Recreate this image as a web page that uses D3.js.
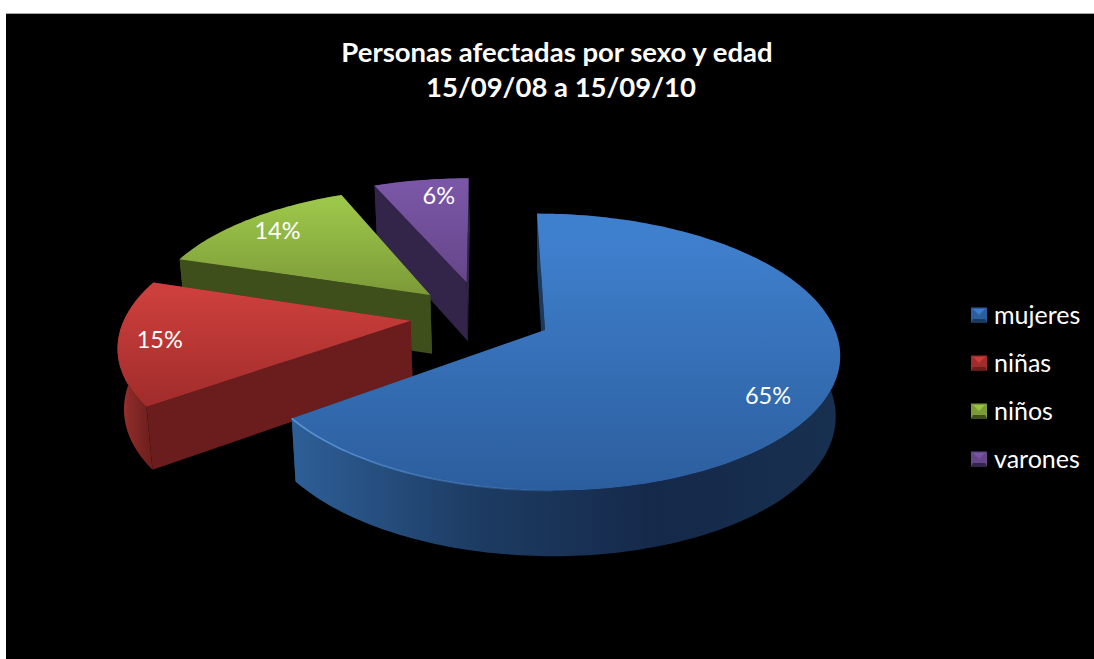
<!DOCTYPE html>
<html>
<head>
<meta charset="utf-8">
<script src="https://cdn.jsdelivr.net/npm/d3@7"></script>
<style>
  html, body { margin: 0; padding: 0; background: #fff; }
  svg { display: block; }
  text { font-family: Lato, "Open Sans", sans-serif; fill: #fff; }
</style>
</head>
<body>
<div id="chart"></div>
<script>
(function () {

  // chart data, shares (labels round them)
  const categories = ['mujeres', 'niñas', 'niños', 'varones'];
  const shares = [64.9, 15, 13.7, 6.4];
  const titleLines = ['Personas afectadas por sexo y edad', '15/09/08 a 15/09/10'];

  // colours per slice: top face (light, dark), wall (list of stops), cut face
  const topLight = ['#3f80ce', '#cc3f3c', '#9cc64a', '#7a56a6'];
  const topDark = ['#2c5e9e', '#a02c2b', '#7c9a38', '#654689'];
  const wallStops = [
    ['#2e5f98', '#1d3c63', '#15294a', '#18304f'],
    ['#a33533', '#8a2a28', '#7a2422', '#6a1d1c'],
    ['#4c5f22', '#43531e', '#3f4f1c', '#3f4f1c'],
    ['#3c2c56', '#35274d', '#33254a', '#33254a']
  ];
  const cutColors = ['#1a3a5e', '#6a1d1c', '#3f4f1c', '#33254a'];

  const width = 1094;
  const height = 659;

  // fake 3d pie set up: ground plane coords (u right, v to the back) on a unit radius
  const cx = 545, cy = 330;
  const perspective = 0.16;
  const skew = -8;
  const depth = 60;
  const bottomShrink = 0.985;

  // how far each slice is pulled out of the pie, in ground coords
  const pullU = [0, -0.467, -0.405, -0.275];
  const pullV = [0, 0.07, 0.27, 0.37];
  const labelRadius = [0.835, 0.86, 0.83, 0.82];
  const labelTurn = [6, 0, 0, 3];

  const xScale = d3.scaleLinear().domain([-1, 1]).range([cx - 290, cx + 290]);
  const yScale = d3.scaleLinear().domain([-1, 1]).range([cy + 135, cy - 135]);

  function project(u, v, low) {
    const s = 1 + perspective * v;
    let x = xScale(u / s) + skew * v;
    let y = yScale(v / s);
    if (low) {
      x = cx + (x - cx) * bottomShrink;
      y = y + depth / Math.sqrt(s);
    }
    return [x, y];
  }

  function rimPoint(i, angle, low) {
    return project(pullU[i] + Math.sin(angle), pullV[i] + Math.cos(angle), low);
  }

  function rim(i, a0, a1, low) {
    const n = Math.max(2, Math.ceil((a1 - a0) / 0.02));
    return d3.range(n + 1).map(k => rimPoint(i, a0 + (a1 - a0) * k / n, low));
  }

  const svg = d3.select('#chart').append('svg')
    .attr('width', width)
    .attr('height', height);

  const defs = svg.append('defs');
  const line = d3.line();

  // black panel with the thin grey line on top
  svg.append('rect').attr('x', 6).attr('y', 13).attr('width', width - 6).attr('height', height - 13).attr('fill', '#000');
  svg.append('rect').attr('x', 6).attr('y', 13).attr('width', width - 6).attr('height', 1).attr('fill', '#aaa');

  const pie = d3.pie().sort(null).value(d => d);
  const slices = pie(shares);

  // gradients
  slices.forEach((d, i) => {
    const top = defs.append('linearGradient').attr('id', 'top' + i)
      .attr('gradientUnits', 'userSpaceOnUse')
      .attr('x1', 0).attr('x2', 0);
    const ys = rim(i, d.startAngle, d.endAngle, false).map(p => p[1]).concat(project(pullU[i], pullV[i], false)[1]);
    top.attr('y1', d3.min(ys)).attr('y2', d3.max(ys));
    top.append('stop').attr('offset', 0.08).attr('stop-color', topLight[i]);
    top.append('stop').attr('offset', 1).attr('stop-color', topDark[i]);

    const xs = rim(i, d.startAngle, d.endAngle, false).map(p => p[0]);
    const wall = defs.append('linearGradient').attr('id', 'wall' + i)
      .attr('gradientUnits', 'userSpaceOnUse')
      .attr('x1', d3.min(xs)).attr('x2', d3.max(xs)).attr('y1', 0).attr('y2', 0);
    wallStops[i].forEach((c, k) => {
      wall.append('stop').attr('offset', k / (wallStops[i].length - 1)).attr('stop-color', c);
    });
  });

  const rimGlow = defs.append('linearGradient').attr('id', 'rimGlow')
    .attr('gradientUnits', 'userSpaceOnUse')
    .attr('x1', 293).attr('x2', 600).attr('y1', 0).attr('y2', 0);
  rimGlow.append('stop').attr('offset', 0).attr('stop-color', '#5f9be0').attr('stop-opacity', 0.9);
  rimGlow.append('stop').attr('offset', 1).attr('stop-color', '#5f9be0').attr('stop-opacity', 0);

  // back slices first so the front ones sit on top
  const order = d3.range(slices.length).reverse();

  order.forEach(i => {
    const d = slices[i];
    const g = svg.append('g').attr('class', 'slice slice-' + categories[i]);
    const apexTop = project(pullU[i], pullV[i], false);
    const apexLow = project(pullU[i], pullV[i], true);

    // cut face at the end of the slice, this one is the furthest back
    const endFace = [apexTop, rimPoint(i, d.endAngle, false), rimPoint(i, d.endAngle, true), apexLow];
    g.append('path').attr('d', line(endFace) + 'Z').attr('fill', cutColors[i]);

    // outer wall
    const wallTop = rim(i, d.startAngle, d.endAngle, false);
    const wallLow = rim(i, d.startAngle, d.endAngle, true).reverse();
    g.append('path')
      .attr('d', line(wallTop.concat(wallLow)) + 'Z')
      .attr('fill', 'url(#wall' + i + ')');

    const startFace = [apexTop, rimPoint(i, d.startAngle, false), rimPoint(i, d.startAngle, true), apexLow];
    g.append('path').attr('d', line(startFace) + 'Z').attr('fill', cutColors[i]);

    // top face
    g.append('path')
      .attr('d', line([apexTop].concat(wallTop)) + 'Z')
      .attr('fill', 'url(#top' + i + ')');
  });

  // highlight along the front rim of the big slice
  svg.append('path')
    .attr('d', line(rim(0, Math.PI, slices[0].endAngle, false)))
    .attr('fill', 'none')
    .attr('stroke', 'url(#rimGlow)')
    .attr('stroke-width', 1.6);

  // percent labels
  svg.append('g').selectAll('text')
    .data(slices)
    .join('text')
    .attr('transform', (d, i) => {
      const a = (d.startAngle + d.endAngle) / 2 + labelTurn[i] * Math.PI / 180;
      const p = project(pullU[i] + labelRadius[i] * Math.sin(a), pullV[i] + labelRadius[i] * Math.cos(a), false);
      return `translate(${p[0]},${p[1]})`;
    })
    .attr('text-anchor', 'middle')
    .attr('dy', '0.35em')
    .attr('font-size', 23.5)
    .text(d => Math.round(d.value) + '%');

  // title
  svg.append('g').selectAll('text')
    .data(titleLines)
    .join('text')
    .attr('x', (d, i) => 557 + i * 4)
    .attr('y', (d, i) => 62 + i * 35)
    .attr('text-anchor', 'middle')
    .attr('font-size', 27.5)
    .attr('font-weight', 700)
    .text(d => d);

  // legend
  const legendY = d3.scalePoint().domain(categories).range([315, 459]);
  const legend = svg.append('g').selectAll('g')
    .data(categories)
    .join('g')
    .attr('transform', d => `translate(971,${legendY(d)})`);

  legend.each(function (d, i) {
    const item = d3.select(this);
    item.append('rect').attr('x', 0).attr('y', -7.5).attr('width', 16).attr('height', 15).attr('fill', topDark[i]);
    item.append('path').attr('d', line([[2, -6], [14, -6], [8, 0]]) + 'Z').attr('fill', topLight[i]).attr('opacity', 0.9);
    item.append('path').attr('d', line([[0, 7.5], [16, 7.5], [14, 4], [2, 4]]) + 'Z').attr('fill', cutColors[i]);
    item.append('text').attr('x', 23).attr('dy', '0.35em').attr('font-size', 25).text(d);
  });

})();
</script>
</body>
</html>
